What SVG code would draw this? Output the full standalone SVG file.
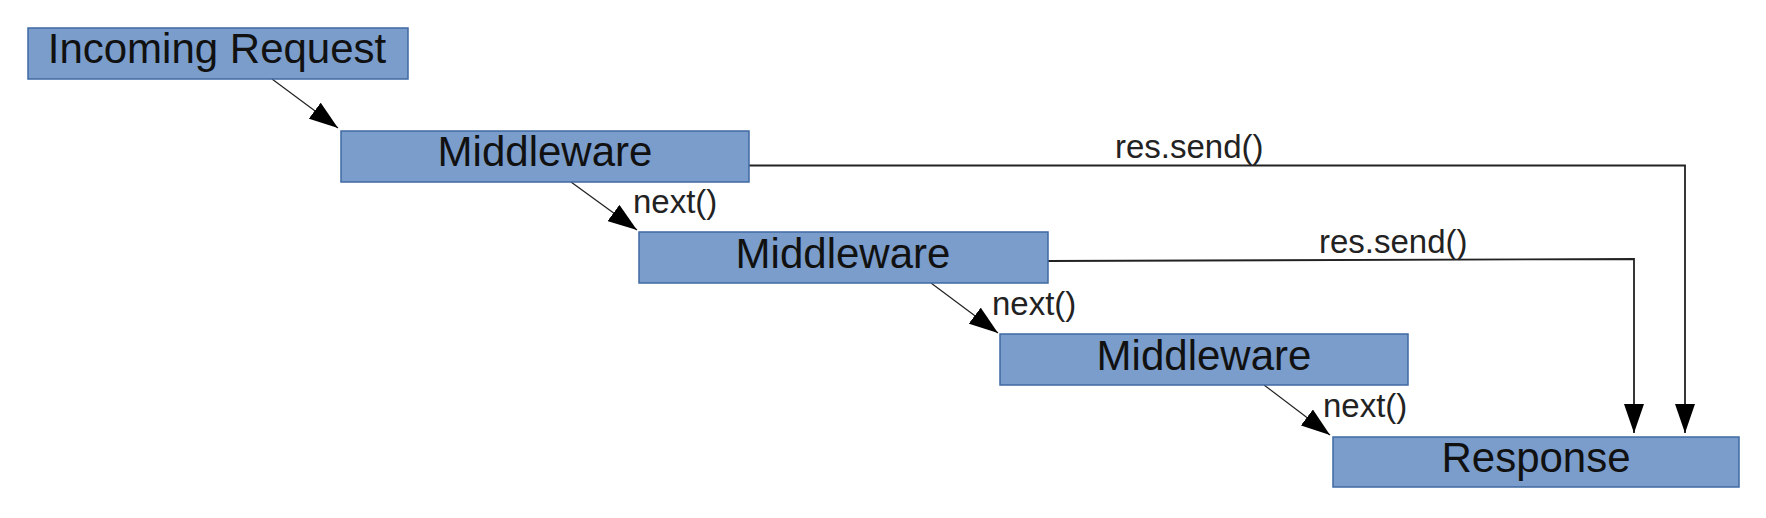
<svg xmlns="http://www.w3.org/2000/svg" width="1766" height="518" viewBox="0 0 1766 518">
<style>
.box{fill:#7a9dcb;stroke:#3f6aa3;stroke-width:1.5}
.big{font-family:"Liberation Sans",Arial,sans-serif;font-size:42px;fill:#111;text-anchor:middle}
.lbl{font-family:"Liberation Sans",Arial,sans-serif;font-size:33px;fill:#222}
.diag{stroke:#222;stroke-width:1.2;fill:none}
.send{stroke:#222;stroke-width:1.8;fill:none}
</style>
<defs>
<marker id="ah" markerUnits="userSpaceOnUse" markerWidth="29" markerHeight="20" refX="29" refY="10" orient="auto" viewBox="0 0 29 20">
<path d="M0,0 L29,10 L0,20 Z" fill="#000"/>
</marker>
</defs>
<rect width="1766" height="518" fill="#fff"/>
<g id="connectors">
<line class="diag" x1="272" y1="79" x2="338" y2="128" marker-end="url(#ah)"/>
<line class="diag" x1="571" y1="182" x2="637" y2="230" marker-end="url(#ah)"/>
<line class="diag" x1="931" y1="283" x2="998" y2="333" marker-end="url(#ah)"/>
<line class="diag" x1="1264" y1="385" x2="1330" y2="435" marker-end="url(#ah)"/>
<polyline class="send" points="749,165.5 1685,165.5 1685,433" marker-end="url(#ah)"/>
<polyline class="send" points="1048,261 1634,259 1634,433" marker-end="url(#ah)"/>
<text class="lbl" x="633" y="213">next()</text>
<text class="lbl" x="992" y="315">next()</text>
<text class="lbl" x="1323" y="417">next()</text>
<text class="lbl" x="1115" y="158">res.send()</text>
<text class="lbl" x="1319" y="253">res.send()</text>
</g>
<g id="incoming">
<rect class="box" x="28" y="28" width="380" height="51"/>
<text class="big" x="217" y="63">Incoming Request</text>
</g>
<g id="middleware1">
<rect class="box" x="341" y="131" width="408" height="51"/>
<text class="big" x="545" y="166">Middleware</text>
</g>
<g id="middleware2">
<rect class="box" x="639" y="232" width="409" height="51"/>
<text class="big" x="843" y="268">Middleware</text>
</g>
<g id="middleware3">
<rect class="box" x="1000" y="334" width="408" height="51"/>
<text class="big" x="1204" y="370">Middleware</text>
</g>
<g id="response">
<rect class="box" x="1333" y="437" width="406" height="50"/>
<text class="big" x="1536" y="472">Response</text>
</g>
</svg>
